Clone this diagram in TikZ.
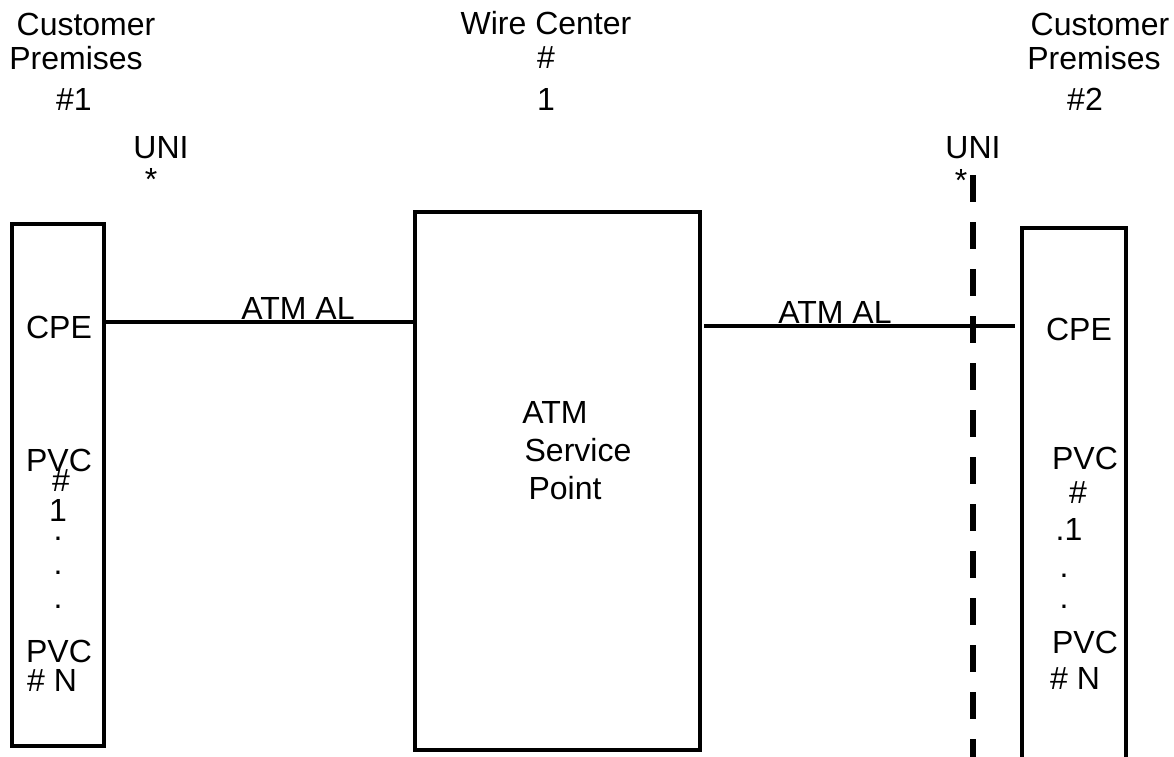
\documentclass[tikz,border=0pt]{standalone}
\usepackage{fontspec}
\setmainfont{Liberation Sans}
\tikzset{
  txt/.style={inner sep=0pt, anchor=base, font=\fontsize{16}{19}\selectfont},
  box/.style={draw, line width=2pt, inner sep=0pt},
  link/.style={line width=2pt},
  border/.style={line width=2.6pt, dash pattern=on 13.5pt off 10pt}
}
\begin{document}
\begin{tikzpicture}[x=0.5pt, y=-0.5pt]
      \useasboundingbox (0, 0) rectangle (1174, 756);
      \clip (0, 0) rectangle (1174, 756);
      % boxes
      \node[box, minimum width=46pt, minimum height=261pt] (cpeA) at (58, 485) {};
      \node[box, minimum width=142.5pt, minimum height=269pt] (svc) at (557.5, 481) {};
      \node[box, minimum width=52pt, minimum height=286pt] (cpeB) at (1074, 514) {};
      % lines
      \coordinate (lnA) at (0, 322);
      \coordinate (lnB) at (0, 326);
      \draw[link] (cpeA.east |- lnA) -- (svc.west |- lnA);
      \draw[link] ([xshift=1pt]svc.east |- lnB) -- ([xshift=-2.5pt]cpeB.west |- lnB);
      \coordinate (uniTop) at (973, 175);
      \coordinate (uniBot) at (973, 770);
      \draw[border] (uniTop) -- (uniBot);
      \node[txt] (alA) at (298, 319) {ATM AL};
      \node[txt] (alB) at (835, 323) {ATM AL};
      % titles
      \node[txt] (cpA1) at (86, 35) {Customer};
      \node[txt] (cpA2) at (76, 69) {Premises};
      \node[txt] (cpA3) at (74, 110) {\#1};
      \node[txt] (wc1) at (546, 34) {Wire Center};
      \node[txt] (wc2) at (546, 68) {\#};
      \node[txt] (wc3) at (546, 110) {1};
      \node[txt] (cpB1) at (1100, 35) {Customer};
      \node[txt] (cpB2) at (1094, 69) {Premises};
      \node[txt] (cpB3) at (1085, 110) {\#2};
      \node[txt] (uniA) at (161, 158) {UNI};
      \node[txt] (starA) at (151, 190) {*};
      \node[txt] (uniB) at (973, 158) {UNI};
      \node[txt] (starB) at (961, 191) {*};
      % service point
      \node[txt] (sp1) at (555, 423) {ATM};
      \node[txt] (sp2) at (578, 461) {Service};
      \node[txt] (sp3) at (565, 499) {Point};
      % left premises
      \node[txt] (lA1) at (59, 338) {CPE};
      \node[txt] (lA2) at (59, 471) {PVC};
      \node[txt] (lA3) at (61, 491) {\#};
      \node[txt] (lA4) at (58, 521) {1};
      \node[txt] (lA5) at (58, 540) {.};
      \node[txt] (lA6) at (58, 574) {.};
      \node[txt] (lA7) at (58, 608) {.};
      \node[txt] (lA8) at (59, 662) {PVC};
      \node[txt] (lA9) at (52, 691) {\# N};
      % right premises
      \node[txt] (lB1) at (1079, 340) {CPE};
      \node[txt] (lB2) at (1085, 469) {PVC};
      \node[txt] (lB3) at (1078, 503) {\#};
      \node[txt] (lB4) at (1069, 540) {.1};
      \node[txt] (lB5) at (1064, 577) {.};
      \node[txt] (lB6) at (1064, 608) {.};
      \node[txt] (lB7) at (1085, 653) {PVC};
      \node[txt] (lB8) at (1075, 689) {\# N};
    \end{tikzpicture}
\end{document}
